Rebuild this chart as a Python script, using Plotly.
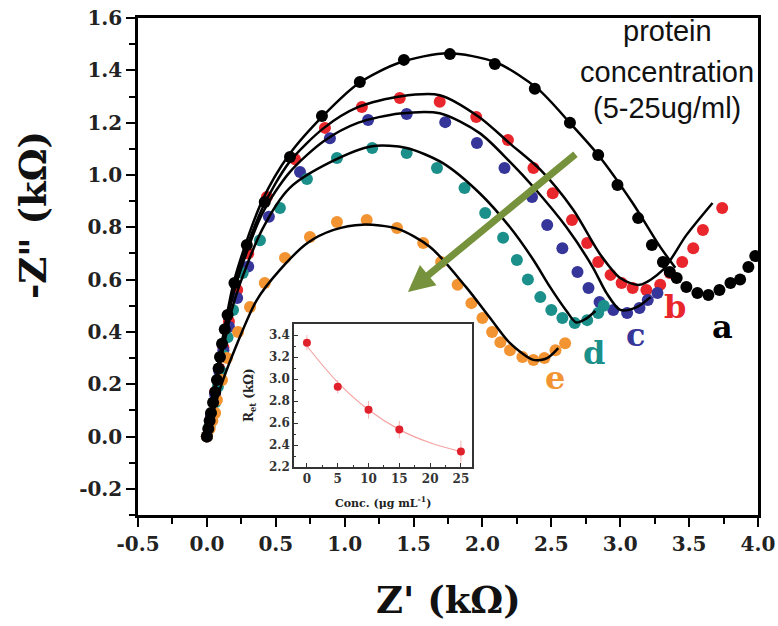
import plotly.graph_objects as go

# ---------------- main Nyquist data (kΩ) ----------------
a_x = [0.0, 0.01, 0.02, 0.03, 0.045, 0.06, 0.073, 0.085, 0.095, 0.11, 0.13, 0.15, 0.2, 0.29, 0.42, 0.603, 0.835, 1.11, 1.43, 1.764, 2.09, 2.38, 2.635, 2.84, 2.98, 3.13, 3.23, 3.31, 3.36, 3.41, 3.48, 3.56, 3.64, 3.72, 3.8, 3.87, 3.93, 3.98]
a_y = [0.0, 0.03, 0.06, 0.09, 0.13, 0.17, 0.216, 0.26, 0.304, 0.355, 0.41, 0.465, 0.587, 0.732, 0.897, 1.069, 1.225, 1.355, 1.44, 1.462, 1.424, 1.33, 1.20, 1.076, 0.962, 0.835, 0.732, 0.667, 0.629, 0.606, 0.572, 0.549, 0.541, 0.56, 0.587, 0.6, 0.648, 0.69]

b_x = [0.0, 0.03, 0.06, 0.09, 0.12, 0.16, 0.22, 0.3, 0.436, 0.64, 0.857, 1.125, 1.40, 1.69, 1.955, 2.185, 2.37, 2.51, 2.65, 2.76, 2.84, 2.93, 3.01, 3.09, 3.19, 3.29, 3.36, 3.45, 3.53, 3.6, 3.74]
b_y = [0.0, 0.08, 0.17, 0.26, 0.34, 0.44, 0.56, 0.7, 0.916, 1.06, 1.18, 1.26, 1.294, 1.28, 1.222, 1.134, 1.027, 0.93, 0.828, 0.74, 0.667, 0.618, 0.587, 0.568, 0.56, 0.58, 0.625, 0.667, 0.72, 0.79, 0.874]

c_x = [0.0, 0.03, 0.06, 0.09, 0.12, 0.16, 0.22, 0.3, 0.45, 0.676, 0.893, 1.17, 1.45, 1.73, 1.96, 2.16, 2.36, 2.47, 2.58, 2.69, 2.77, 2.85, 2.95, 3.05, 3.14, 3.2, 3.27]
c_y = [0.0, 0.08, 0.16, 0.25, 0.33, 0.42, 0.53, 0.65, 0.84, 1.011, 1.14, 1.21, 1.233, 1.202, 1.122, 1.027, 0.916, 0.809, 0.72, 0.629, 0.568, 0.514, 0.484, 0.472, 0.491, 0.522, 0.549]

d_x = [0.0, 0.02, 0.04, 0.06, 0.08, 0.1, 0.12, 0.15, 0.19, 0.26, 0.385, 0.53, 0.726, 0.944, 1.2, 1.45, 1.67, 1.87, 2.02, 2.15, 2.25, 2.33, 2.42, 2.5, 2.58, 2.67, 2.76, 2.84, 2.88]
d_y = [0.0, 0.04, 0.08, 0.13, 0.19, 0.25, 0.31, 0.38, 0.484, 0.625, 0.75, 0.874, 0.985, 1.065, 1.103, 1.084, 1.027, 0.95, 0.855, 0.76, 0.675, 0.6, 0.533, 0.484, 0.453, 0.434, 0.445, 0.472, 0.5]

e_x = [0.0, 0.02, 0.04, 0.06, 0.073, 0.11, 0.146, 0.226, 0.313, 0.42, 0.567, 0.748, 0.944, 1.16, 1.38, 1.57, 1.7, 1.82, 1.92, 2.0, 2.07, 2.13, 2.2, 2.29, 2.37, 2.45, 2.53, 2.6]
e_y = [0.0, 0.03, 0.06, 0.09, 0.14, 0.216, 0.3, 0.4, 0.495, 0.587, 0.683, 0.763, 0.82, 0.828, 0.797, 0.74, 0.667, 0.58, 0.51, 0.453, 0.4, 0.36, 0.33, 0.304, 0.293, 0.3, 0.33, 0.357]

# fitted curves
fa_x = [0.0, 0.1, 0.2, 0.4, 0.6, 0.85, 1.1, 1.4, 1.75, 2.1, 2.4, 2.65, 2.85, 3.09, 3.29, 3.4]
fa_y = [0.0, 0.33, 0.6, 0.9, 1.08, 1.23, 1.35, 1.43, 1.465, 1.43, 1.33, 1.19, 1.07, 0.893, 0.725, 0.645]

fb_x = [0.0, 0.1, 0.2, 0.4, 0.6, 0.85, 1.1, 1.4, 1.69, 1.98, 2.2, 2.42, 2.66, 2.85, 3.0, 3.14, 3.31, 3.48, 3.67]
fb_y = [0.0, 0.32, 0.58, 0.87, 1.05, 1.18, 1.26, 1.3, 1.305, 1.22, 1.12, 1.02, 0.866, 0.7, 0.606, 0.58, 0.637, 0.77, 0.893]

fc_x = [0.0, 0.1, 0.2, 0.4, 0.6, 0.85, 1.1, 1.4, 1.69, 1.98, 2.2, 2.37, 2.61, 2.8, 2.9, 3.0, 3.12, 3.22]
fc_y = [0.0, 0.31, 0.56, 0.85, 1.01, 1.13, 1.2, 1.235, 1.236, 1.16, 1.05, 0.954, 0.8, 0.648, 0.549, 0.484, 0.495, 0.533]

fd_x = [0.0, 0.1, 0.2, 0.4, 0.6, 0.9, 1.2, 1.45, 1.71, 1.98, 2.2, 2.37, 2.49, 2.61, 2.68, 2.75, 2.82]
fd_y = [0.0, 0.29, 0.52, 0.79, 0.95, 1.05, 1.11, 1.103, 1.046, 0.93, 0.8, 0.675, 0.572, 0.48, 0.436, 0.45, 0.48]

fe_x = [0.0, 0.05, 0.1, 0.2, 0.36, 0.53, 0.73, 0.92, 1.13, 1.38, 1.62, 1.88, 2.05, 2.2, 2.37, 2.47, 2.55]
fe_y = [0.0, 0.1, 0.19, 0.33, 0.52, 0.637, 0.74, 0.79, 0.81, 0.795, 0.725, 0.572, 0.457, 0.357, 0.293, 0.3, 0.338]

# ---------------- inset data ----------------
conc = [0, 5, 10, 15, 25]
ret = [3.33, 2.93, 2.72, 2.54, 2.34]
ret_err = [0.07, 0.06, 0.08, 0.08, 0.1]
fit_conc = [0, 5, 10, 15, 20, 25]
fit_ret = [3.30, 2.97, 2.72, 2.54, 2.42, 2.34]

x_ticks = [-0.5, 0, 0.5, 1, 1.5, 2, 2.5, 3, 3.5, 4]
x_ticktext = ["-0.5", "0.0", "0.5", "1.0", "1.5", "2.0", "2.5", "3.0", "3.5", "4.0"]
y_ticks = [-0.2, 0, 0.2, 0.4, 0.6, 0.8, 1.0, 1.2, 1.4, 1.6]
y_ticktext = ["-0.2", "0.0", "0.2", "0.4", "0.6", "0.8", "1.0", "1.2", "1.4", "1.6"]
inset_x_ticks = [0, 5, 10, 15, 20, 25]
inset_y_ticks = [2.2, 2.4, 2.6, 2.8, 3.0, 3.2, 3.4]
inset_y_ticktext = ["2.2", "2.4", "2.6", "2.8", "3.0", "3.2", "3.4"]

series_names = ["a", "b", "c", "d", "e"]
colors = {"a": "#000000", "b": "#e8262b", "c": "#35359a", "d": "#1b8f8a", "e": "#f39433"}
label_pos = {"a": (3.74, 0.42), "b": (3.40, 0.495), "c": (3.11, 0.39), "d": (2.81, 0.32), "e": (2.53, 0.225)}

data = {"a": (a_x, a_y), "b": (b_x, b_y), "c": (c_x, c_y), "d": (d_x, d_y), "e": (e_x, e_y)}
fits = {"a": (fa_x, fa_y), "b": (fb_x, fb_y), "c": (fc_x, fc_y), "d": (fd_x, fd_y), "e": (fe_x, fe_y)}

fig = go.Figure()

for s in ["b", "c", "d", "e", "a"]:
    xs, ys = data[s]
    fig.add_trace(go.Scatter(x=xs, y=ys, mode="markers", name=s,
                             marker=dict(size=12, color=colors[s]),
                             showlegend=False, xaxis="x", yaxis="y"))
for s in ["e", "d", "c", "b", "a"]:
    xs, ys = fits[s]
    fig.add_trace(go.Scatter(x=xs, y=ys, mode="lines", line=dict(color="black", width=2.5, shape="spline", smoothing=0.8),
                             showlegend=False, xaxis="x", yaxis="y"))

# inset
fig.add_trace(go.Scatter(x=fit_conc, y=fit_ret, mode="lines",
                         line=dict(color="#f5a3a3", width=1.2, shape="spline"),
                         showlegend=False, xaxis="x2", yaxis="y2"))
fig.add_trace(go.Scatter(x=conc, y=ret, mode="markers",
                         marker=dict(size=8, color="#e0202a"),
                         error_y=dict(type="data", array=ret_err, color="#f3b5b5", thickness=1, width=0),
                         showlegend=False, xaxis="x2", yaxis="y2"))

serif = "DejaVu Serif"
ann = []
for s in series_names:
    x, y = label_pos[s]
    ann.append(dict(x=x, y=y, xref="x", yref="y", text=s, showarrow=False,
                    font=dict(family=serif, size=32, color=colors[s], weight="bold")))

# green arrow
ann.append(dict(x=1.459, y=0.553, ax=2.686, ay=1.084, xref="x", yref="y", axref="x", ayref="y",
                text="", showarrow=True, arrowhead=2, arrowsize=0.75, arrowwidth=7,
                arrowcolor="#76923c", standoff=0))

# protein text (positions in screenshot pixels)
for txt, ypx in [("protein", 31), ("concentration", 72), ("(5-25ug/ml)", 108)]:
    ann.append(dict(x=667, y=ypx, xref="paper", yref="paper", text=txt, showarrow=False,
                    xanchor="center", yanchor="middle",
                    font=dict(family="Liberation Sans", size=29, color="#111111")))

# axis titles as annotations (screenshot pixels)
ann.append(dict(x=448, y=600, text="Z' (k\u03a9)", showarrow=False, xref="paper", yref="paper",
                xanchor="center", yanchor="middle",
                font=dict(family=serif, size=37, color="#111111", weight="bold")))
ann.append(dict(x=33, y=215, text="-Z\" (k\u03a9)", showarrow=False, textangle=-90, xref="paper", yref="paper",
                xanchor="center", yanchor="middle",
                font=dict(family=serif, size=37, color="#111111", weight="bold")))
# inset titles
ann.append(dict(x=383, y=502, text="Conc. (\u03bcg mL<sup>-1</sup>)", showarrow=False, xref="paper", yref="paper",
                xanchor="center", yanchor="middle",
                font=dict(family=serif, size=11, color="#222222", weight="bold")))
ann.append(dict(x=250, y=395, text="R<sub>et</sub> (k\u03a9)", showarrow=False, textangle=-90, xref="paper", yref="paper",
                xanchor="center", yanchor="middle",
                font=dict(family=serif, size=12, color="#222222", weight="bold")))

# body margin removed via post_script, so figure pixels == screenshot pixels
OFF = 0
W, H = 778, 626
L, T = 138 - OFF, 18 - OFF
R = W - (758 - OFF)
B = H - (515 - OFF)
pw, ph = W - L - R, H - T - B


def px_to_paper_x(px):
    return (px - OFF - L) / pw


def px_to_paper_y(py):
    return (H - (py - OFF) - B) / ph


for a_ in ann:
    if a_.get("xref") == "paper":
        a_["x"] = px_to_paper_x(a_["x"])
        a_["y"] = px_to_paper_y(a_["y"])

fig.update_layout(
    width=W, height=H,
    margin=dict(l=L, r=R, t=T, b=B, autoexpand=False),
    paper_bgcolor="white", plot_bgcolor="white",
    showlegend=False,
    annotations=ann,
    xaxis=dict(range=[-0.5, 4.0], tickmode="array", tickvals=x_ticks, ticktext=x_ticktext,
               ticks="outside", ticklen=9, tickwidth=2, tickcolor="black",
               minor=dict(dtick=0.25, ticks="outside", ticklen=6, tickwidth=2, tickcolor="black"),
               showline=True, linecolor="black", linewidth=2.5, mirror=True,
               showgrid=False, zeroline=False, automargin=False,
               tickfont=dict(family=serif, size=20, color="#222222", weight="bold")),
    yaxis=dict(range=[-0.3, 1.6001], tickmode="array", tickvals=y_ticks, ticktext=y_ticktext,
               ticks="outside", ticklen=9, tickwidth=2, tickcolor="black",
               minor=dict(dtick=0.1, tick0=0, ticks="outside", ticklen=6, tickwidth=2, tickcolor="black"),
               showline=True, linecolor="black", linewidth=2.5, mirror=True,
               showgrid=False, zeroline=False, automargin=False,
               tickfont=dict(family=serif, size=20, color="#222222", weight="bold")),
    xaxis2=dict(domain=[px_to_paper_x(294), px_to_paper_x(472)], anchor="y2", range=[-2.1, 26.8],
                tickvals=inset_x_ticks, ticks="inside", ticklen=4, tickwidth=1, tickcolor="#333",
                minor=dict(dtick=2.5, ticks="inside", ticklen=2, tickcolor="#333"),
                showline=True, linecolor="#333333", linewidth=1.5, mirror=True,
                showgrid=False, zeroline=False, automargin=False,
                tickfont=dict(family=serif, size=12, color="#333333", weight="bold")),
    yaxis2=dict(domain=[px_to_paper_y(467), px_to_paper_y(324)], anchor="x2", range=[2.2, 3.5],
                tickvals=inset_y_ticks, ticktext=inset_y_ticktext,
                ticks="inside", ticklen=4, tickwidth=1, tickcolor="#333",
                minor=dict(dtick=0.1, tick0=2.2, ticks="inside", ticklen=2, tickcolor="#333"),
                showline=True, linecolor="#333333", linewidth=1.5, mirror=True,
                showgrid=False, zeroline=False, automargin=False,
                tickfont=dict(family=serif, size=12, color="#333333", weight="bold")),
)

fig.write_html("out.html", config={"displayModeBar": False},
               post_script="document.body.style.margin='0';document.body.style.overflow='hidden';")
